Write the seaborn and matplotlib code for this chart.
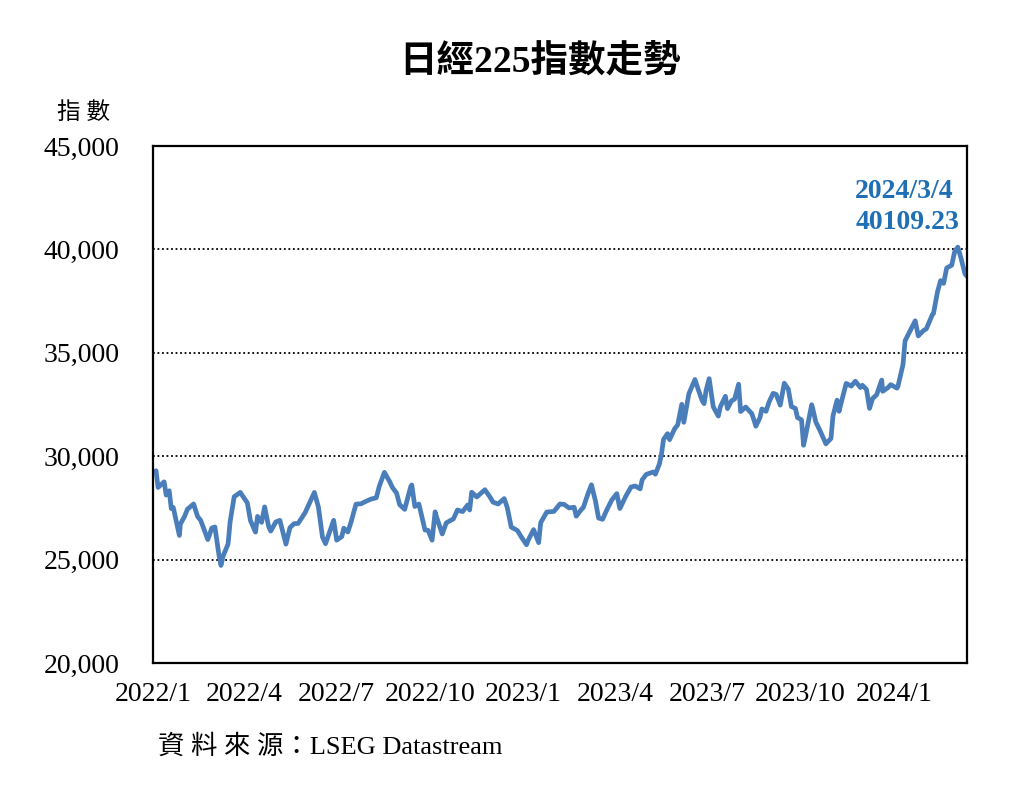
import pandas as pd
import matplotlib
matplotlib.use("Agg")
import matplotlib.pyplot as plt
from matplotlib.ticker import FuncFormatter
import seaborn as sns

# Nikkei 225 closes (approximate)
dates = [
    "2022-01-04", "2022-01-06", "2022-01-12", "2022-01-14", "2022-01-17", "2022-01-19",
    "2022-01-21", "2022-01-27", "2022-01-28", "2022-02-01", "2022-02-04", "2022-02-10",
    "2022-02-14", "2022-02-17", "2022-02-24", "2022-02-28", "2022-03-03", "2022-03-07",
    "2022-03-09", "2022-03-11", "2022-03-16", "2022-03-18", "2022-03-22", "2022-03-28",
    "2022-04-04", "2022-04-07", "2022-04-12", "2022-04-14", "2022-04-18", "2022-04-21",
    "2022-04-25", "2022-04-27", "2022-05-02", "2022-05-06", "2022-05-12", "2022-05-16",
    "2022-05-20", "2022-05-24", "2022-05-31", "2022-06-06", "2022-06-09", "2022-06-13",
    "2022-06-17", "2022-06-20", "2022-06-28", "2022-07-01", "2022-07-06", "2022-07-08",
    "2022-07-12", "2022-07-15", "2022-07-20", "2022-07-25", "2022-07-29", "2022-08-04",
    "2022-08-09", "2022-08-12", "2022-08-17", "2022-08-22", "2022-08-25", "2022-08-29",
    "2022-09-01", "2022-09-06", "2022-09-12", "2022-09-13", "2022-09-16", "2022-09-20",
    "2022-09-26", "2022-09-29", "2022-10-03", "2022-10-06", "2022-10-07", "2022-10-13",
    "2022-10-17", "2022-10-24", "2022-10-28", "2022-11-02", "2022-11-07", "2022-11-09",
    "2022-11-11", "2022-11-16", "2022-11-24", "2022-11-29", "2022-12-02", "2022-12-07",
    "2022-12-13", "2022-12-16", "2022-12-20", "2022-12-26", "2022-12-30",
    "2023-01-04", "2023-01-06", "2023-01-11", "2023-01-16", "2023-01-18", "2023-01-24",
    "2023-01-31", "2023-02-06", "2023-02-10", "2023-02-15", "2023-02-20", "2023-02-22",
    "2023-02-27", "2023-03-01", "2023-03-06", "2023-03-09", "2023-03-13", "2023-03-16",
    "2023-03-20", "2023-03-24", "2023-03-29", "2023-04-03", "2023-04-06", "2023-04-12",
    "2023-04-17", "2023-04-21", "2023-04-26", "2023-04-28", "2023-05-02", "2023-05-09",
    "2023-05-11", "2023-05-15", "2023-05-17", "2023-05-19", "2023-05-23", "2023-05-25",
    "2023-05-30", "2023-06-02", "2023-06-06", "2023-06-08", "2023-06-13", "2023-06-19",
    "2023-06-22", "2023-06-26", "2023-06-28", "2023-06-30", "2023-07-03", "2023-07-07",
    "2023-07-12", "2023-07-14", "2023-07-19", "2023-07-21", "2023-07-25", "2023-07-28",
    "2023-08-01", "2023-08-03", "2023-08-08", "2023-08-14", "2023-08-16", "2023-08-18",
    "2023-08-22", "2023-08-24", "2023-08-28", "2023-08-31", "2023-09-04", "2023-09-07",
    "2023-09-11", "2023-09-15", "2023-09-19", "2023-09-22", "2023-09-26", "2023-09-28",
    "2023-10-02", "2023-10-04", "2023-10-06", "2023-10-12", "2023-10-13", "2023-10-16",
    "2023-10-20", "2023-10-26", "2023-10-31", "2023-11-02", "2023-11-06", "2023-11-08",
    "2023-11-10", "2023-11-15", "2023-11-20", "2023-11-24", "2023-11-29", "2023-12-01",
    "2023-12-05", "2023-12-08", "2023-12-11", "2023-12-15", "2023-12-20", "2023-12-21",
    "2023-12-26", "2023-12-29",
    "2024-01-04", "2024-01-05", "2024-01-10", "2024-01-12", "2024-01-22", "2024-01-25",
    "2024-01-30", "2024-02-02", "2024-02-08", "2024-02-09", "2024-02-13", "2024-02-16",
    "2024-02-19", "2024-02-22", "2024-02-27", "2024-03-01", "2024-03-04", "2024-03-07",
    "2024-03-11", "2024-03-13",
]
closes = [
    29300, 28490, 28760, 28120, 28330, 27470,
    27520, 26170, 26720, 27080, 27440, 27690,
    27080, 26900, 25970, 26530, 26580, 25220,
    24720, 25160, 25760, 26830, 28040, 28250,
    27740, 26890, 26330, 27090, 26800, 27550,
    26590, 26380, 26820, 26900, 25750, 26550,
    26740, 26750, 27280, 27920, 28250, 27540,
    26090, 25770, 26900, 25940, 26110, 26520,
    26340, 26790, 27680, 27700, 27800, 27930,
    27990, 28550, 29220, 28790, 28480, 28220,
    27660, 27430, 28540, 28610, 27570, 27690,
    26430, 26420, 25940, 27310, 27120, 26240,
    26780, 26970, 27400, 27320, 27640, 27400,
    28260, 28030, 28380, 28030, 27780, 27690,
    27950, 27530, 26570, 26410, 26090,
    25720, 25970, 26450, 25820, 26790, 27300,
    27330, 27690, 27670, 27500, 27530, 27100,
    27420, 27520, 28240, 28620, 27830, 27010,
    26950, 27390, 27880, 28190, 27470, 28080,
    28510, 28560, 28420, 28860, 29120, 29240,
    29130, 29630, 30090, 30810, 31090, 30800,
    31330, 31520, 32510, 31640, 33020, 33710,
    33260, 32700, 32540, 33190, 33750, 32390,
    31940, 32390, 32900, 32300, 32680, 32760,
    33480, 32160, 32380, 32060, 31770, 31450,
    31860, 32290, 32170, 32620, 33040, 32990,
    32470, 33530, 33240, 32400, 32310, 31870,
    31760, 30530, 30990, 32490, 32320, 31660,
    31260, 30600, 30860, 31950, 32710, 32170,
    32570, 33520, 33390, 33630, 33320, 33430,
    33230, 32310, 32790, 32970, 33680, 33140,
    33310, 33460,
    33290, 33380, 34440, 35580, 36550, 35820,
    36070, 36160, 36860, 36900, 37960, 38490,
    38360, 39100, 39240, 39910, 40110, 39600,
    38820, 38700,
]

quarter_ticks = ["2022-01-01", "2022-04-01", "2022-07-01", "2022-10-01", "2023-01-01",
                 "2023-04-01", "2023-07-01", "2023-10-01", "2024-01-01"]
quarter_labels = ["2022/1", "2022/4", "2022/7", "2022/10", "2023/1",
                  "2023/4", "2023/7", "2023/10", "2024/1"]
y_ticks = [20000, 25000, 30000, 35000, 40000, 45000]

peak_label = ["2024/3/4", "40109.23"]

df = pd.DataFrame({"date": pd.to_datetime(dates), "close": closes})

sns.set_style("white")
serif = ["Liberation Serif", "Noto Sans CJK TC", "DejaVu Sans"]
plt.rcParams["font.family"] = serif
plt.rcParams["text.color"] = "black"

fig = plt.figure(figsize=(10.24, 7.91), dpi=100)
ax = fig.add_axes([0.1494, 0.1618, 0.7949, 0.6536])

sns.lineplot(data=df, x="date", y="close", ax=ax, color="#4A7EBB", linewidth=3.4)

ax.set_xlim(pd.Timestamp("2022-01-01"), pd.Timestamp("2024-03-13"))
ax.set_ylim(20000, 45000)
ax.set_yticks(y_ticks)
ax.yaxis.set_major_formatter(FuncFormatter(lambda v, p: f"{int(v):,}"))
ax.set_xticks(pd.to_datetime(quarter_ticks))
ax.set_xticklabels(quarter_labels)

for v in y_ticks[1:-1]:
    ax.axhline(v, color="black", linestyle=(0, (1, 1.5)), linewidth=1.3, zorder=0)

for s in ax.spines.values():
    s.set_color("black")
    s.set_linewidth(1.6)

ax.tick_params(axis="x", direction="in", length=7, width=1.3, pad=14,
               labelsize=20, colors="black")
ax.tick_params(axis="y", length=0, pad=24, labelsize=20, colors="black")
ax.set_xlabel("")
ax.set_ylabel("")

fig.text(0.527, 0.922, "日經225指數走勢", ha="center", va="center",
         fontsize=27, fontweight="bold", color="black", family=serif)
fig.text(0.082, 0.857, "指 數", ha="center", va="center", fontsize=17,
         color="black", family=serif)
fig.text(0.154, 0.056, "資 料 來 源：LSEG Datastream", ha="left", va="center",
         fontsize=19, color="black", family=serif)

ax.text(pd.Timestamp("2023-11-24"), 42820, peak_label[0], ha="left", va="center",
        fontsize=20, fontweight="bold", color="#1F6FB4")
ax.text(pd.Timestamp("2023-11-24"), 41280, peak_label[1], ha="left", va="center",
        fontsize=20, fontweight="bold", color="#1F6FB4")

fig.savefig("out.png", dpi=100, facecolor="white")
